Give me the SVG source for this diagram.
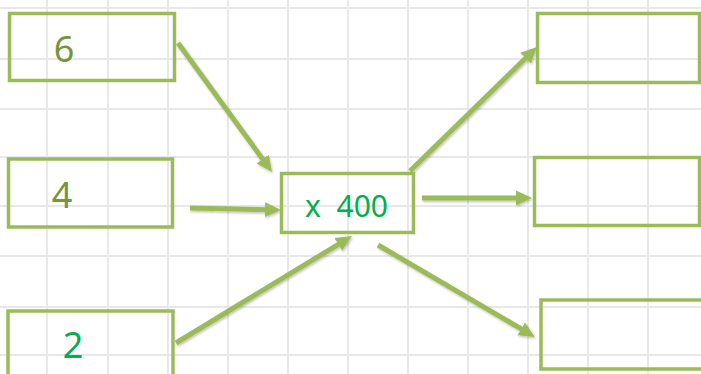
<svg xmlns="http://www.w3.org/2000/svg" width="701" height="374" viewBox="0 0 701 374">
<style>
.grid line{stroke:#e8e8e8;stroke-width:2}
.box{fill:none;stroke:#9bbb59;stroke-width:3.5}
.conn line{stroke:#9bbb59;stroke-width:5;marker-end:url(#ah);filter:url(#sh)}
.t{font-family:"Noto Sans","Open Sans",sans-serif;text-anchor:middle}
.olive{fill:#77933c;font-size:36px}
.green{fill:#00b050}
</style>
<defs>
<marker id="ah" markerUnits="userSpaceOnUse" viewBox="0 -8 18 16" markerWidth="18" markerHeight="16" refX="2" refY="0" orient="auto">
<path d="M0,-7.5 L16,0 L0,7.5 z" fill="#9bbb59"/>
</marker>
<filter id="sh" filterUnits="userSpaceOnUse" x="0" y="0" width="701" height="374">
<feDropShadow dx="1" dy="1.5" stdDeviation="1" flood-color="#000" flood-opacity="0.25"/>
</filter>
</defs>
<rect width="701" height="374" fill="#ffffff"/>
<g class="grid">
<line x1="47" y1="0" x2="47" y2="374"/>
<line x1="108" y1="0" x2="108" y2="374"/>
<line x1="168" y1="0" x2="168" y2="374"/>
<line x1="228" y1="0" x2="228" y2="374"/>
<line x1="288" y1="0" x2="288" y2="374"/>
<line x1="348" y1="0" x2="348" y2="374"/>
<line x1="408" y1="0" x2="408" y2="374"/>
<line x1="468" y1="0" x2="468" y2="374"/>
<line x1="528" y1="0" x2="528" y2="374"/>
<line x1="588" y1="0" x2="588" y2="374"/>
<line x1="648" y1="0" x2="648" y2="374"/>
<line x1="0" y1="8" x2="701" y2="8"/>
<line x1="0" y1="59" x2="701" y2="59"/>
<line x1="0" y1="109" x2="701" y2="109"/>
<line x1="0" y1="157" x2="701" y2="157"/>
<line x1="0" y1="206" x2="701" y2="206"/>
<line x1="0" y1="256" x2="701" y2="256"/>
<line x1="0" y1="307" x2="701" y2="307"/>
<line x1="0" y1="355" x2="701" y2="355"/>
</g>
<g class="conn">
<line x1="178" y1="43" x2="263.8" y2="160.7"/>
<line x1="190" y1="208" x2="267" y2="209.7"/>
<line x1="176" y1="343" x2="340" y2="243.3"/>
<line x1="410" y1="171" x2="527" y2="56.8"/>
<line x1="422" y1="198" x2="518" y2="198"/>
<line x1="378" y1="245" x2="522.9" y2="329.9"/>
</g>
<g id="in6"><rect class="box" x="9.5" y="13.5" width="165" height="67"/><text class="t olive" x="64" y="62">6</text></g>
<g id="in4"><rect class="box" x="8.5" y="159" width="164" height="68"/><text class="t olive" x="62" y="208">4</text></g>
<g id="in2"><rect class="box" x="8" y="311" width="165" height="70"/><text class="t green" style="font-size:36px" x="73" y="358">2</text></g>
<g id="mult"><rect class="box" x="281.5" y="173.5" width="132" height="59"/><text class="t green" style="font-size:30px;white-space:pre" x="346.5" y="217">x  400</text></g>
<g id="out1"><rect class="box" x="537.5" y="13.5" width="162" height="69"/></g>
<g id="out2"><rect class="box" x="534.5" y="157.5" width="165" height="68"/></g>
<g id="out3"><rect class="box" x="541" y="300" width="162" height="69"/></g>
</svg>
